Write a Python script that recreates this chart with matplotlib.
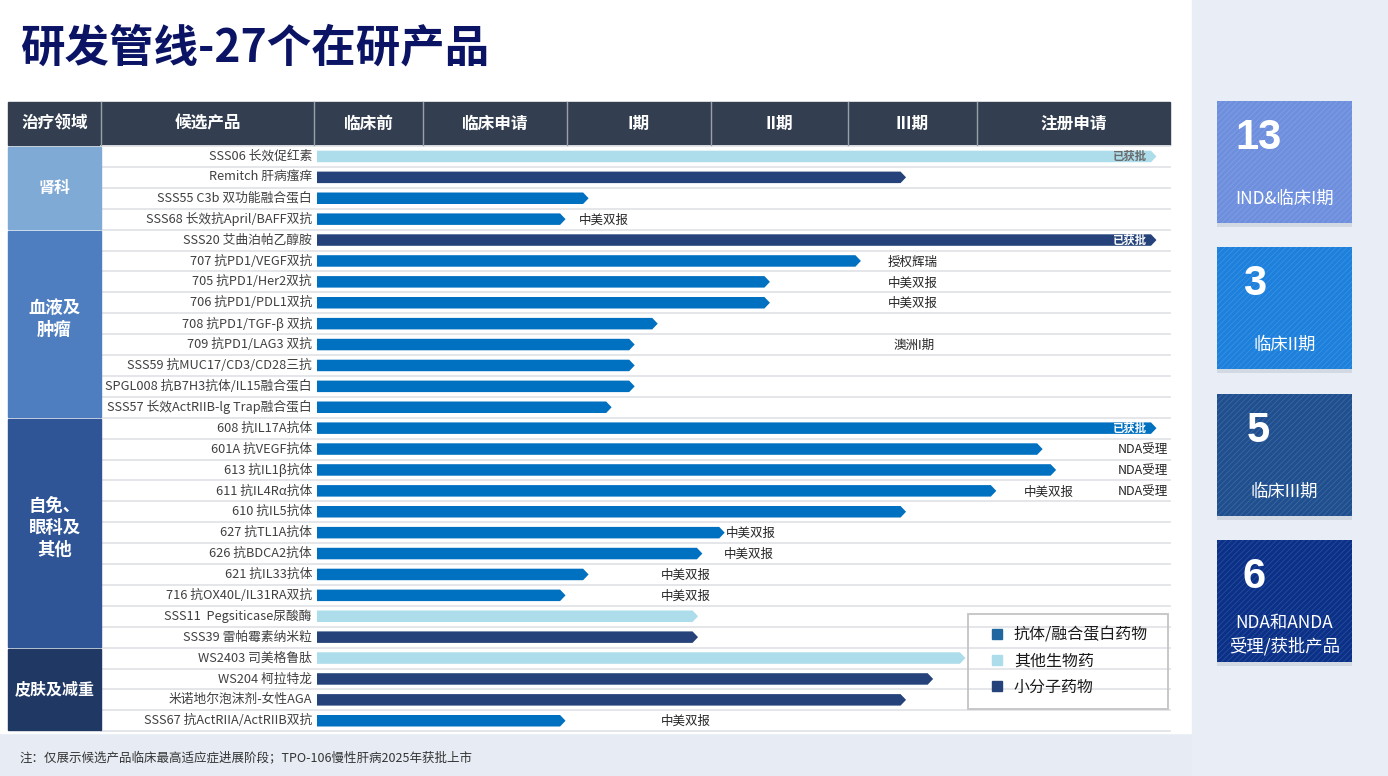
import matplotlib
matplotlib.use("Agg")
import matplotlib.pyplot as plt
from matplotlib.patches import Rectangle, Polygon
import numpy as np

plt.rcParams['font.family'] = ['Noto Sans CJK SC', 'DejaVu Sans']
plt.rcParams['hatch.linewidth'] = 0.6

# ---- 数据 ----
stages = ['临床前', '临床申请', 'I期', 'II期', 'III期', '注册申请']

groups = ['肾科', '血液及\n肿瘤', '自免、\n眼科及\n其他', '皮肤及减重']
group_rows = [4, 9, 11, 4]

products = [
    'SSS06 长效促红素', 'Remitch 肝病瘙痒', 'SSS55 C3b 双功能融合蛋白', 'SSS68 长效抗April/BAFF双抗',
    'SSS20 艾曲泊帕乙醇胺', '707 抗PD1/VEGF双抗', '705 抗PD1/Her2双抗', '706 抗PD1/PDL1双抗',
    '708 抗PD1/TGF-β 双抗', '709 抗PD1/LAG3 双抗', 'SSS59 抗MUC17/CD3/CD28三抗',
    'SPGL008 抗B7H3抗体/IL15融合蛋白', 'SSS57 长效ActRIIB-lg Trap融合蛋白',
    '608 抗IL17A抗体', '601A 抗VEGF抗体', '613 抗IL1β抗体', '611 抗IL4Rα抗体', '610 抗IL5抗体',
    '627 抗TL1A抗体', '626 抗BDCA2抗体', '621 抗IL33抗体', '716 抗OX40L/IL31RA双抗',
    'SSS11  Pegsiticase尿酸酶', 'SSS39 雷帕霉素纳米粒',
    'WS2403 司美格鲁肽', 'WS204 柯拉特龙', '米诺地尔泡沫剂-女性AGA', 'SSS67 抗ActRIIA/ActRIIB双抗',
]

# 进展（阶段单位：0=临床前起点，6=注册申请终点）
progress = [5.93, 4.45, 2.15, 1.99,
            5.93, 4.10, 3.43, 3.43, 2.63, 2.47, 2.47, 2.47, 2.31,
            5.93, 5.34, 5.41, 5.10, 4.45, 3.10, 2.94, 2.15, 1.99, 2.91, 2.91,
            4.91, 4.66, 4.45, 1.99]

# ab=抗体/融合蛋白药物, bio=其他生物药, small=小分子药物
drug_type = ['bio', 'small', 'ab', 'ab',
             'small', 'ab', 'ab', 'ab', 'ab', 'ab', 'ab', 'ab', 'ab',
             'ab', 'ab', 'ab', 'ab', 'ab', 'ab', 'ab', 'ab', 'ab', 'bio', 'small',
             'bio', 'small', 'small', 'ab']

approved_rows = [0, 4, 13]

note_rows = [3, 5, 6, 7, 9, 14, 15, 16, 16, 18, 19, 20, 21, 27]
note_texts = ['中美双报', '授权辉瑞', '中美双报', '中美双报', '澳洲I期', 'NDA受理', 'NDA受理',
              '中美双报', 'NDA受理', '中美双报', '中美双报', '中美双报', '中美双报', '中美双报']
note_pos = [2.08, 4.31, 4.31, 4.31, 4.35, 5.73, 5.73, 5.24, 5.73, 3.11, 3.09, 2.65, 2.65, 2.65]

summary_counts = ['13', '3', '5', '6']
summary_labels = ['IND&临床I期', '临床II期', '临床III期', 'NDA和ANDA\n受理/获批产品']

legend_labels = ['抗体/融合蛋白药物', '其他生物药', '小分子药物']

# ---- 样式 ----
type_color = {'ab': '#0070C0', 'bio': '#ADDCEB', 'small': '#25437A'}
legend_colors = ['#21669F', '#ADDCEB', '#25437A']
group_colors = ['#7FAAD6', '#4E7EC0', '#2F5597', '#1F3864']
summary_colors = ['#6E8FDE', '#1C80DC', '#1F4F8F', '#0A3088']
header_bg = '#333F50'

W, H = 1388, 776
fig = plt.figure(figsize=(W / 100, H / 100), dpi=100)
fig.patch.set_facecolor('#E7ECF4')
ax = fig.add_axes([0, 0, 1, 1])
ax.set_xlim(0, W)
ax.set_ylim(H, 0)
ax.axis('off')

# 背景
ax.add_patch(Rectangle((0, 0), 1192, 733, color='white', zorder=0))
ax.add_patch(Rectangle((1192, 0), W - 1192, H, color='#E9EEF6', zorder=0))

ax.text(20, 48, '研发管线-27个在研产品', fontsize=32, fontweight='bold',
        color='#0B1464', va='center', ha='left')

# 表格布局
col_x = [8, 101, 314]
stage_edges = [314, 423, 567, 711, 848, 977, 1170]
head_top, head_bot = 102, 145
row_top = 146
row_h = 20.9
n_rows = len(products)


def sx(p):
    return np.interp(p, np.arange(len(stage_edges)), stage_edges)


# 表头
ax.add_patch(Rectangle((col_x[0], head_top), stage_edges[-1] - col_x[0], head_bot - head_top,
                       color=header_bg, zorder=1))
head_cells = [(col_x[0], col_x[1], '治疗领域'), (col_x[1], col_x[2], '候选产品')]
head_cells += [(stage_edges[i], stage_edges[i + 1], s) for i, s in enumerate(stages)]
for x0, x1, s in head_cells:
    ax.text((x0 + x1) / 2, (head_top + head_bot) / 2, s, color='white', fontsize=12,
            fontweight='bold', ha='center', va='center', zorder=3)
    if x0 > col_x[0]:
        ax.plot([x0, x0], [head_top, head_bot], color='#9AA0A8', lw=1, zorder=2)

# 行背景与分隔线
ax.add_patch(Rectangle((col_x[1], row_top), stage_edges[-1] - col_x[1], n_rows * row_h,
                       color='white', zorder=1))
for i in range(n_rows + 1):
    y = row_top + i * row_h
    ax.plot([col_x[1], stage_edges[-1]], [y, y], color='#E2E4E8', lw=1.3, zorder=1.5)

# 治疗领域分组
start = 0
for g, n, c in zip(groups, group_rows, group_colors):
    y0 = row_top + start * row_h
    ax.add_patch(Rectangle((col_x[0], y0 + 1), col_x[1] - col_x[0], n * row_h - 2,
                           color=c, zorder=2))
    multi = '\n' in g
    ax.text((col_x[0] + col_x[1]) / 2, y0 + n * row_h / 2 - (5 if multi else 0), g,
            color='white', fontsize=12.5 if multi else 11.5, fontweight='bold',
            ha='center', va='center', linespacing=1.3, zorder=3)
    start += n

# 产品与进度条
bar_h = 11.5
tip = 5.5
x_start = 317
for i, (name, p, t) in enumerate(zip(products, progress, drug_type)):
    yc = row_top + (i + 0.5) * row_h
    ax.text(312, yc, name, fontsize=9.2, color='#404040', ha='right', va='center', zorder=3)
    x1 = sx(p)
    pts = [(x_start, yc - bar_h / 2), (x1 - tip, yc - bar_h / 2), (x1, yc),
           (x1 - tip, yc + bar_h / 2), (x_start, yc + bar_h / 2)]
    ax.add_patch(Polygon(pts, closed=True, color=type_color[t], lw=0, zorder=3))
    if i in approved_rows:
        ax.text(x1 - 9, yc, '已获批', fontsize=8.2, fontweight='bold',
                color='#6A6A6A' if t == 'bio' else 'white', ha='right', va='center', zorder=4)

for r, s, p in zip(note_rows, note_texts, note_pos):
    yc = row_top + (r + 0.5) * row_h
    ax.text(sx(p), yc + 1, s, fontsize=9, color='#262626', ha='left', va='center', zorder=4)

# 图例
ax.add_patch(Rectangle((968, 614), 200, 95, fill=False, edgecolor='#C4C4C4', lw=1.3, zorder=4))
for k, (lab, c) in enumerate(zip(legend_labels, legend_colors)):
    ly = 634 + k * 26
    ax.add_patch(Rectangle((992, ly - 5), 10, 10, color=c, zorder=5))
    ax.text(1014, ly + 1, lab, fontsize=11.5, color='#1A1A1A', ha='left', va='center', zorder=5)

# 注释
ax.text(20, 758, '注：仅展示候选产品临床最高适应症进展阶段；TPO-106慢性肝病2025年获批上市',
        fontsize=9, color='#333333', ha='left', va='center')

# 右侧汇总
box_tops = [101, 247, 394, 540]
box_x, box_w, box_h = 1217, 135, 122
num_x = [1235, 1243, 1247, 1243]
for top, c, num, lab, nx in zip(box_tops, summary_colors, summary_counts, summary_labels, num_x):
    ax.add_patch(Rectangle((box_x, top + box_h), box_w, 4, color='#D3D9E2', lw=0, zorder=1))
    ax.add_patch(Rectangle((box_x, top), box_w, box_h, facecolor=c, edgecolor='#FFFFFF22',
                           hatch='//////', lw=0, zorder=2))
    ax.text(nx, top + 37, num, fontsize=30, fontweight='bold', color='white',
            family=['Liberation Sans', 'DejaVu Sans'], ha='left', va='center', zorder=3)
    if '\n' in lab:
        ax.text(box_x + box_w / 2, top + 95, lab, fontsize=12.5, color='white',
                ha='center', va='center', linespacing=1.3, zorder=3)
    else:
        ax.text(box_x + box_w / 2, top + 98, lab, fontsize=12.5, color='white',
                ha='center', va='center', zorder=3)

fig.savefig('out.png', dpi=100, facecolor=fig.get_facecolor())
